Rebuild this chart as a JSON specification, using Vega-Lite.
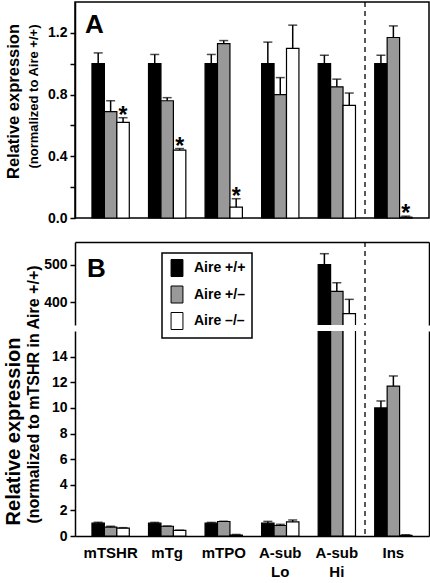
{
 "$schema": "https://vega.github.io/schema/vega-lite/v6.json",
 "padding": {"left": 2, "top": 0, "right": 2, "bottom": 0},
 "config": {
  "font": "Liberation Sans",
  "view": {"stroke": "black", "strokeWidth": 1.5},
  "axis": {"domainColor": "black", "domainWidth": 1.5, "tickColor": "black", "tickWidth": 1.5, "labelColor": "black", "titleColor": "black", "labelFont": "Liberation Sans", "titleFont": "Liberation Sans", "grid": false, "labelFontWeight": "bold", "titleFontWeight": "bold"},
  "legend": {"strokeColor": "black", "strokeWidth": 1.5},
  "title": {"font": "Liberation Sans", "color": "black"}
 },
 "datasets": {
  "a": [
   {"gene": "mTSHR", "genotype": "Aire +/+", "value": 1.0, "upper": 1.07},
   {"gene": "mTSHR", "genotype": "Aire +/–", "value": 0.69, "upper": 0.76},
   {"gene": "mTSHR", "genotype": "Aire –/–", "value": 0.62, "upper": 0.65, "star": "*"},
   {"gene": "mTg", "genotype": "Aire +/+", "value": 1.0, "upper": 1.06},
   {"gene": "mTg", "genotype": "Aire +/–", "value": 0.76, "upper": 0.78},
   {"gene": "mTg", "genotype": "Aire –/–", "value": 0.44, "upper": 0.45, "star": "*"},
   {"gene": "mTPO", "genotype": "Aire +/+", "value": 1.0, "upper": 1.06},
   {"gene": "mTPO", "genotype": "Aire +/–", "value": 1.13, "upper": 1.15},
   {"gene": "mTPO", "genotype": "Aire –/–", "value": 0.07, "upper": 0.125, "star": "*"},
   {"gene": "A-sub Lo", "genotype": "Aire +/+", "value": 1.0, "upper": 1.14},
   {"gene": "A-sub Lo", "genotype": "Aire +/–", "value": 0.8, "upper": 0.91},
   {"gene": "A-sub Lo", "genotype": "Aire –/–", "value": 1.1, "upper": 1.25},
   {"gene": "A-sub Hi", "genotype": "Aire +/+", "value": 1.0, "upper": 1.055},
   {"gene": "A-sub Hi", "genotype": "Aire +/–", "value": 0.85, "upper": 0.9},
   {"gene": "A-sub Hi", "genotype": "Aire –/–", "value": 0.73, "upper": 0.81},
   {"gene": "Ins", "genotype": "Aire +/+", "value": 1.0, "upper": 1.055},
   {"gene": "Ins", "genotype": "Aire +/–", "value": 1.17, "upper": 1.245},
   {"gene": "Ins", "genotype": "Aire –/–", "value": 0.005, "upper": 0.012, "star": "*"}
  ],
  "b": [
   {"gene": "mTSHR", "genotype": "Aire +/+", "value": 1.0, "upper": 1.07},
   {"gene": "mTSHR", "genotype": "Aire +/–", "value": 0.69, "upper": 0.76},
   {"gene": "mTSHR", "genotype": "Aire –/–", "value": 0.62, "upper": 0.65},
   {"gene": "mTg", "genotype": "Aire +/+", "value": 1.0, "upper": 1.06},
   {"gene": "mTg", "genotype": "Aire +/–", "value": 0.76, "upper": 0.78},
   {"gene": "mTg", "genotype": "Aire –/–", "value": 0.44, "upper": 0.45},
   {"gene": "mTPO", "genotype": "Aire +/+", "value": 1.0, "upper": 1.06},
   {"gene": "mTPO", "genotype": "Aire +/–", "value": 1.13, "upper": 1.15},
   {"gene": "mTPO", "genotype": "Aire –/–", "value": 0.07, "upper": 0.12},
   {"gene": "A-sub Lo", "genotype": "Aire +/+", "value": 1.0, "upper": 1.14},
   {"gene": "A-sub Lo", "genotype": "Aire +/–", "value": 0.82, "upper": 0.91},
   {"gene": "A-sub Lo", "genotype": "Aire –/–", "value": 1.1, "upper": 1.25},
   {"gene": "A-sub Hi", "genotype": "Aire +/+", "value": 500, "upper": 529},
   {"gene": "A-sub Hi", "genotype": "Aire +/–", "value": 429, "upper": 452},
   {"gene": "A-sub Hi", "genotype": "Aire –/–", "value": 370, "upper": 408},
   {"gene": "Ins", "genotype": "Aire +/+", "value": 10.0, "upper": 10.54},
   {"gene": "Ins", "genotype": "Aire +/–", "value": 11.7, "upper": 12.49},
   {"gene": "Ins", "genotype": "Aire –/–", "value": 0.05, "upper": 0.1}
  ]
 },
 "spacing": 14,
 "resolve": {"scale": {"color": "independent"}},
 "vconcat": [
  {
   "data": {"name": "a"},
   "width": 354,
   "height": 216,
   "title": {"text": "A", "anchor": "start", "frame": "group", "fontSize": 26, "fontWeight": "bold", "baseline": "top", "offset": 0, "dy": 37, "dx": 10},
   "resolve": {"axis": {"y": "independent"}},
   "layer": [
    {
     "mark": {"type": "bar", "stroke": "black", "strokeWidth": 1.2},
     "encoding": {
      "x": {"field": "gene", "type": "nominal", "sort": ["mTSHR", "mTg", "mTPO", "A-sub Lo", "A-sub Hi", "Ins"], "scale": {"paddingInner": 0.34, "paddingOuter": 0.3}, "axis": null},
      "xOffset": {"field": "genotype", "type": "nominal", "sort": ["Aire +/+", "Aire +/–", "Aire –/–"]},
      "y": {"field": "value", "type": "quantitative", "scale": {"domain": [0, 1.4]}, "axis": {"orient": "left", "values": [0, 0.2, 0.4, 0.6, 0.8, 1, 1.2], "labelExpr": "round(datum.value*10)%4==0 ? format(datum.value,'.1f') : ''", "tickSize": 5, "labelFontSize": 14, "labelPadding": 3, "title": "(normalized to Aire +/+)", "titleFontSize": 13, "titleX": -42, "titleY": 94, "titleBaseline": "middle", "titleAngle": -90}},
      "color": {"field": "genotype", "type": "nominal", "scale": {"domain": ["Aire +/+", "Aire +/–", "Aire –/–"], "range": ["#000000", "#999999", "#ffffff"]}, "legend": null}
     }
    },
    {
     "mark": {"type": "rule", "strokeWidth": 1.5, "color": "black"},
     "encoding": {
      "x": {"field": "gene", "type": "nominal", "sort": ["mTSHR", "mTg", "mTPO", "A-sub Lo", "A-sub Hi", "Ins"], "axis": null},
      "xOffset": {"field": "genotype", "type": "nominal", "sort": ["Aire +/+", "Aire +/–", "Aire –/–"]},
      "y": {"field": "value", "type": "quantitative", "axis": {"orient": "left", "labels": false, "ticks": false, "domain": false, "title": "Relative expression", "titleFontSize": 16.5, "titleX": -62, "titleY": 99, "titleBaseline": "middle", "titleAngle": -90}},
      "y2": {"field": "upper"}
     }
    },
    {
     "mark": {"type": "tick", "color": "black", "thickness": 1.5, "size": 9, "orient": "horizontal"},
     "encoding": {
      "x": {"field": "gene", "type": "nominal", "sort": ["mTSHR", "mTg", "mTPO", "A-sub Lo", "A-sub Hi", "Ins"], "axis": null},
      "xOffset": {"field": "genotype", "type": "nominal", "sort": ["Aire +/+", "Aire +/–", "Aire –/–"]},
      "y": {"field": "upper", "type": "quantitative", "axis": null}
     }
    },
    {
     "transform": [{"filter": "datum.star"}],
     "mark": {"type": "text", "fontSize": 23, "fontWeight": "bold", "baseline": "alphabetic", "dy": 5, "color": "black"},
     "encoding": {
      "x": {"field": "gene", "type": "nominal", "sort": ["mTSHR", "mTg", "mTPO", "A-sub Lo", "A-sub Hi", "Ins"], "axis": null},
      "xOffset": {"field": "genotype", "type": "nominal", "sort": ["Aire +/+", "Aire +/–", "Aire –/–"]},
      "y": {"field": "upper", "type": "quantitative", "axis": null},
      "text": {"field": "star"}
     }
    },
    {
     "data": {"values": [{"gene": "Ins"}]},
     "mark": {"type": "rule", "strokeDash": [5, 4], "strokeWidth": 1.3, "color": "black"},
     "encoding": {"x": {"field": "gene", "type": "nominal", "sort": ["mTSHR", "mTg", "mTPO", "A-sub Lo", "A-sub Hi", "Ins"], "bandPosition": -0.26, "axis": null}}
    }
   ]
  },
  {
   "spacing": 6,
   "bounds": "flush",
   "resolve": {"scale": {"color": "independent"}},
   "vconcat": [
    {
     "data": {"name": "b"},
     "width": 354,
     "height": 83,
     "view": {"stroke": null},
     "title": {"text": "B", "anchor": "start", "frame": "group", "fontSize": 26, "fontWeight": "bold", "baseline": "top", "offset": 0, "dy": 41, "dx": 12},
     "resolve": {"axis": {"y": "independent"}},
     "layer": [
      {
       "mark": {"type": "bar", "stroke": "black", "strokeWidth": 1.2, "clip": true},
       "encoding": {
        "x": {"field": "gene", "type": "nominal", "sort": ["mTSHR", "mTg", "mTPO", "A-sub Lo", "A-sub Hi", "Ins"], "scale": {"paddingInner": 0.34, "paddingOuter": 0.3}, "axis": {"orient": "top", "labels": false, "ticks": false, "tickSize": 0, "labelPadding": 0, "minExtent": 0, "maxExtent": 0, "title": null, "domain": true}},
        "xOffset": {"field": "genotype", "type": "nominal", "sort": ["Aire +/+", "Aire +/–", "Aire –/–"]},
        "y": {"field": "value", "type": "quantitative", "scale": {"domain": [341, 554]}, "axis": {"orient": "left", "values": [400, 500], "tickSize": 5, "labelFontSize": 14, "labelPadding": 3, "title": null}},
        "color": {"field": "genotype", "type": "nominal", "scale": {"domain": ["Aire +/+", "Aire +/–", "Aire –/–"], "range": ["#000000", "#999999", "#ffffff"]}, "legend": {"orient": "none", "legendX": 87, "legendY": 11, "title": null, "strokeColor": "black", "fillColor": "white", "padding": 6, "symbolType": "M-0.7,-1H0.7V1H-0.7Z", "symbolSize": 289, "symbolStrokeColor": "black", "symbolStrokeWidth": 1, "labelFontSize": 14, "labelFontWeight": "bold", "labelFont": "Liberation Sans", "labelColor": "black", "rowPadding": 4.5, "labelOffset": 8}}
       }
      },
      {
       "mark": {"type": "rule", "strokeWidth": 1.5, "color": "black", "clip": true},
       "encoding": {
        "x": {"field": "gene", "type": "nominal", "sort": ["mTSHR", "mTg", "mTPO", "A-sub Lo", "A-sub Hi", "Ins"]},
        "xOffset": {"field": "genotype", "type": "nominal", "sort": ["Aire +/+", "Aire +/–", "Aire –/–"]},
        "y": {"field": "value", "type": "quantitative", "axis": {"orient": "right", "labels": false, "ticks": false, "title": null}},
        "y2": {"field": "upper"}
       }
      },
      {
       "mark": {"type": "tick", "color": "black", "thickness": 1.5, "size": 9, "orient": "horizontal", "clip": true},
       "encoding": {
        "x": {"field": "gene", "type": "nominal", "sort": ["mTSHR", "mTg", "mTPO", "A-sub Lo", "A-sub Hi", "Ins"]},
        "xOffset": {"field": "genotype", "type": "nominal", "sort": ["Aire +/+", "Aire +/–", "Aire –/–"]},
        "y": {"field": "upper", "type": "quantitative", "axis": null}
       }
      },
      {
       "data": {"values": [{"gene": "Ins"}]},
       "mark": {"type": "rule", "strokeDash": [5, 4], "strokeWidth": 1.3, "color": "black"},
       "encoding": {"x": {"field": "gene", "type": "nominal", "sort": ["mTSHR", "mTg", "mTPO", "A-sub Lo", "A-sub Hi", "Ins"], "bandPosition": -0.26}}
      }
     ]
    },
    {
     "data": {"name": "b"},
     "width": 354,
     "height": 205,
     "view": {"stroke": null},
     "resolve": {"axis": {"y": "independent"}},
     "layer": [
      {
       "mark": {"type": "bar", "stroke": "black", "strokeWidth": 1.2, "clip": true},
       "encoding": {
        "x": {"field": "gene", "type": "nominal", "sort": ["mTSHR", "mTg", "mTPO", "A-sub Lo", "A-sub Hi", "Ins"], "scale": {"paddingInner": 0.34, "paddingOuter": 0.3}, "axis": {"orient": "bottom", "labelExpr": "split(datum.label, ' ')", "labelFontSize": 15, "labelAngle": 0, "ticks": false, "tickSize": 0, "labelPadding": 9, "labelLineHeight": 19, "labelBaseline": "top", "title": null, "domain": true}},
        "xOffset": {"field": "genotype", "type": "nominal", "sort": ["Aire +/+", "Aire +/–", "Aire –/–"]},
        "y": {"field": "value", "type": "quantitative", "scale": {"domain": [0, 14.3]}, "axis": {"orient": "left", "values": [0, 2, 4, 6, 8, 10, 12, 14], "tickSize": 5, "labelFontSize": 14, "labelPadding": 3, "title": "(normalized to mTSHR in Aire +/+)", "titleFontSize": 16, "titleX": -42, "titleY": 63, "titleBaseline": "middle", "titleAngle": -90}},
        "color": {"field": "genotype", "type": "nominal", "scale": {"domain": ["Aire +/+", "Aire +/–", "Aire –/–"], "range": ["#000000", "#999999", "#ffffff"]}, "legend": null}
       }
      },
      {
       "mark": {"type": "rule", "strokeWidth": 1.5, "color": "black", "clip": true},
       "encoding": {
        "x": {"field": "gene", "type": "nominal", "sort": ["mTSHR", "mTg", "mTPO", "A-sub Lo", "A-sub Hi", "Ins"]},
        "xOffset": {"field": "genotype", "type": "nominal", "sort": ["Aire +/+", "Aire +/–", "Aire –/–"]},
        "y": {"field": "value", "type": "quantitative", "axis": {"orient": "left", "labels": false, "ticks": false, "domain": false, "title": "Relative expression", "titleFontSize": 20, "titleX": -62, "titleY": 100, "titleBaseline": "middle", "titleAngle": -90}},
        "y2": {"field": "upper"}
       }
      },
      {
       "mark": {"type": "tick", "color": "black", "thickness": 1.5, "size": 9, "orient": "horizontal", "clip": true},
       "encoding": {
        "x": {"field": "gene", "type": "nominal", "sort": ["mTSHR", "mTg", "mTPO", "A-sub Lo", "A-sub Hi", "Ins"]},
        "xOffset": {"field": "genotype", "type": "nominal", "sort": ["Aire +/+", "Aire +/–", "Aire –/–"]},
        "y": {"field": "upper", "type": "quantitative", "axis": {"orient": "right", "labels": false, "ticks": false, "title": null}}
       }
      },
      {
       "data": {"values": [{"gene": "Ins"}]},
       "mark": {"type": "rule", "strokeDash": [5, 4], "strokeWidth": 1.3, "color": "black"},
       "encoding": {"x": {"field": "gene", "type": "nominal", "sort": ["mTSHR", "mTg", "mTPO", "A-sub Lo", "A-sub Hi", "Ins"], "bandPosition": -0.26}}
      }
     ]
    }
   ]
  }
 ]
}
